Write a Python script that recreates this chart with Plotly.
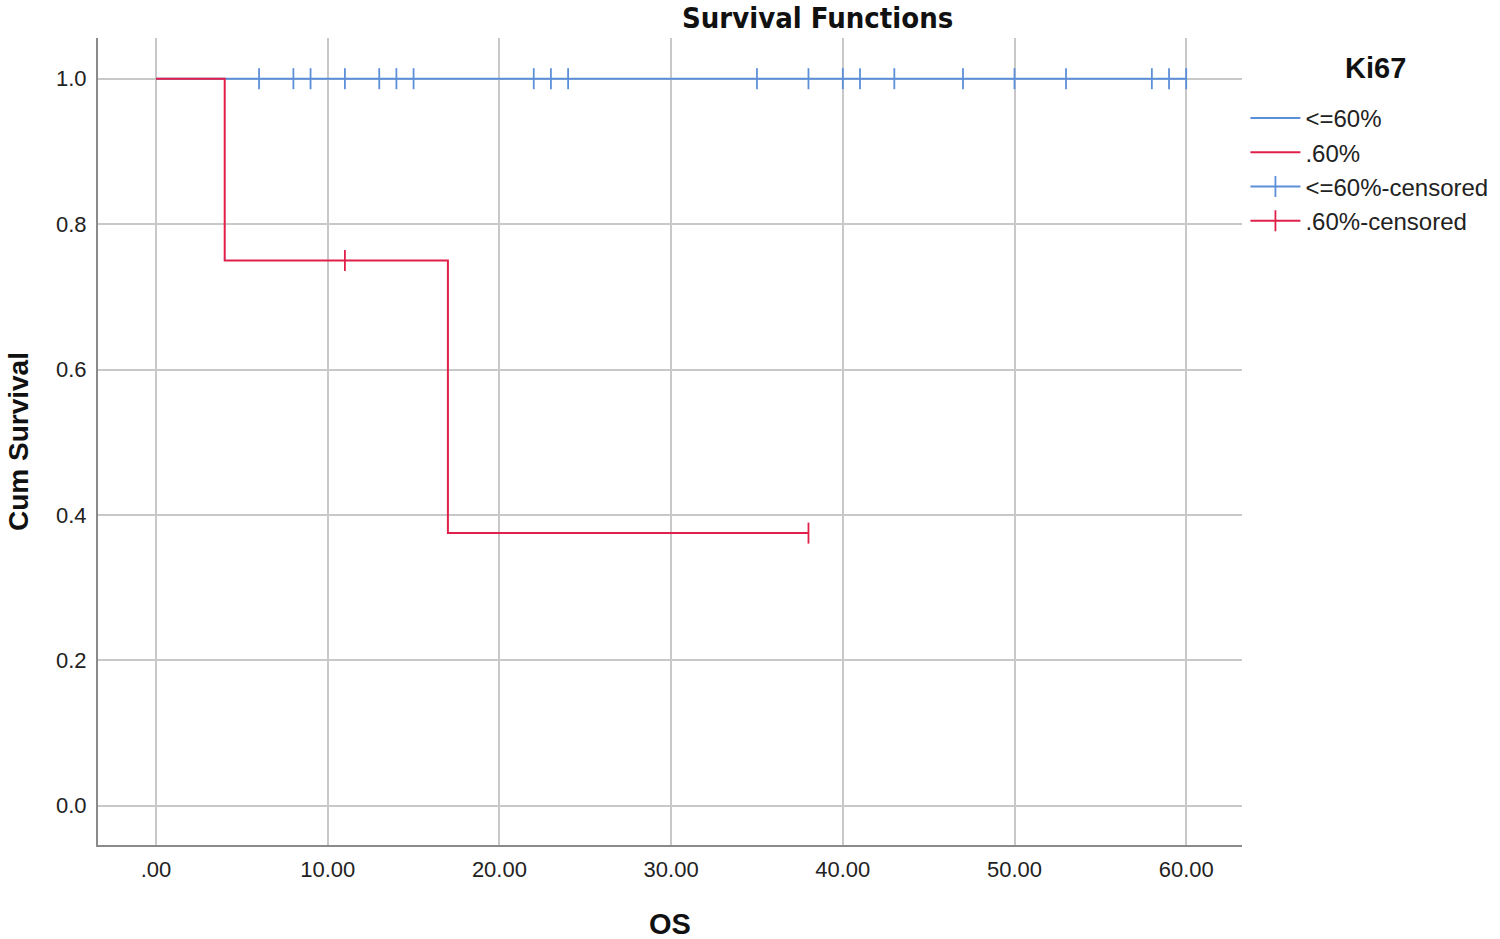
import plotly.graph_objects as go

# ---- data ----
blue_time = [0, 60]
blue_surv = [1.0, 1.0]
red_time = [0, 4, 17, 38]
red_surv = [1.0, 0.75, 0.375, 0.375]
blue_cens_t = [6, 8, 9, 11, 13, 14, 15, 22, 23, 24, 35, 38, 40, 41, 43, 47, 50, 53, 58, 59, 60]
blue_cens_s = [1.0] * len(blue_cens_t)
red_cens_t = [11, 38]
red_cens_s = [0.75, 0.375]
x_ticks = [0, 10, 20, 30, 40, 50, 60]
x_labels = [".00", "10.00", "20.00", "30.00", "40.00", "50.00", "60.00"]
y_ticks = [0, 0.2, 0.4, 0.6, 0.8, 1.0]
y_labels = ["0.0", "0.2", "0.4", "0.6", "0.8", "1.0"]

BLUE = "#5b90d8"
RED = "#e0204a"
FONT = "Liberation Sans, Arial, sans-serif"


def gapped(xs, ys):
    gx, gy = [], []
    for a, b in zip(xs, ys):
        gx += [a, None]
        gy += [b, None]
    return gx, gy


fig = go.Figure()
fig.add_trace(go.Scatter(x=blue_time, y=blue_surv, mode="lines", line_shape="hv",
                         line=dict(color=BLUE, width=2), name="<=60%"))
fig.add_trace(go.Scatter(x=red_time, y=red_surv, mode="lines", line_shape="hv",
                         line=dict(color=RED, width=2), name=".60%"))
bx, by = gapped(blue_cens_t, blue_cens_s)
fig.add_trace(go.Scatter(x=bx, y=by, mode="lines+markers", connectgaps=False,
                         line=dict(color=BLUE, width=2),
                         marker=dict(symbol="line-ns-open", size=15, line=dict(color=BLUE, width=1.8)),
                         name="<=60%-censored"))
rx, ry = gapped(red_cens_t, red_cens_s)
fig.add_trace(go.Scatter(x=rx, y=ry, mode="lines+markers", connectgaps=False,
                         line=dict(color=RED, width=2),
                         marker=dict(symbol="line-ns-open", size=15, line=dict(color=RED, width=1.8)),
                         name=".60%-censored"))

PW, PH = 1144, 807  # plot area size in px (left 98, top 38)

fig.update_layout(
    width=1500, height=939,
    margin=dict(l=98, r=258, t=38, b=94, autoexpand=False),
    paper_bgcolor="white", plot_bgcolor="white",
    font=dict(family=FONT, color="#111111"),
    showlegend=True,
    legend=dict(
        x=1.003, xanchor="left", y=1 - (96 - 38) / PH, yanchor="top",
        font=dict(size=24, family=FONT, color="#222222"),
        itemwidth=50, tracegroupgap=0, bgcolor="rgba(0,0,0,0)",
    ),
    xaxis=dict(
        range=[-3.38, 63.25], tickvals=x_ticks, ticktext=x_labels,
        showgrid=True, gridcolor="#c8c8c8", gridwidth=2,
        showline=True, linecolor="#8a8a8a", linewidth=2,
        zeroline=False, ticks="", ticklabelstandoff=4,
        tickfont=dict(size=22, family=FONT, color="#222222"),
    ),
    yaxis=dict(
        range=[-0.054, 1.056], tickvals=y_ticks, ticktext=y_labels,
        showgrid=True, gridcolor="#c8c8c8", gridwidth=2,
        showline=True, linecolor="#8a8a8a", linewidth=2,
        zeroline=False, ticks="", ticklabelstandoff=5,
        tickfont=dict(size=22, family=FONT, color="#222222"),
    ),
    annotations=[
        dict(text="<b>Survival Functions</b>", xref="paper", yref="paper",
             x=(817 - 98) / PW, y=1 + (38 - 18) / PH, xanchor="center", yanchor="middle",
             showarrow=False, font=dict(size=29, family="Liberation Sans Narrow, DejaVu Sans Condensed, sans-serif", color="#111111")),
        dict(text="<b>Ki67</b>", xref="paper", yref="paper",
             x=(1375 - 98) / PW, y=1 - (68 - 38) / PH, xanchor="center", yanchor="middle",
             showarrow=False, font=dict(size=29, family=FONT, color="#111111")),
        dict(text="<b>OS</b>", xref="paper", yref="paper",
             x=(670 - 98) / PW, y=-(924 - 845) / PH, xanchor="center", yanchor="middle",
             showarrow=False, font=dict(size=29, family=FONT, color="#111111")),
        dict(text="<b>Cum Survival</b>", xref="paper", yref="paper",
             x=-(98 - 18) / PW, y=(845 - 442) / PH, xanchor="center", yanchor="middle",
             textangle=-90, showarrow=False, font=dict(size=28, family=FONT, color="#111111")),
    ],
)

fig.write_html("out.html", config={"displayModeBar": False},
               post_script="document.body.style.margin='0';")
